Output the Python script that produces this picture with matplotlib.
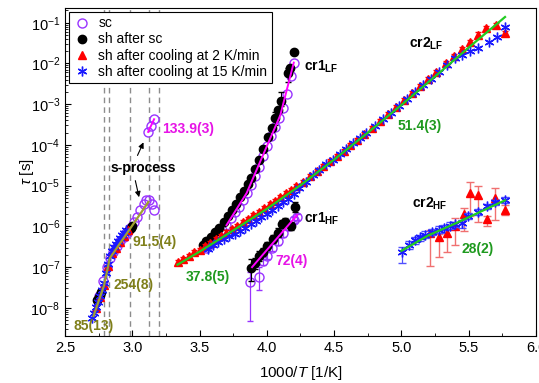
import numpy as np
import matplotlib
matplotlib.use("Agg")
import matplotlib.pyplot as plt
from matplotlib.ticker import MultipleLocator, LogLocator, NullFormatter

plt.rcParams['font.family'] = ['Liberation Sans', 'DejaVu Sans']
plt.rcParams['mathtext.fontset'] = 'custom'
plt.rcParams['mathtext.rm'] = 'Liberation Sans'
plt.rcParams['mathtext.it'] = 'Liberation Sans:italic'
plt.rcParams['mathtext.bf'] = 'Liberation Sans:bold'

# ---- relaxation times, stored as log10(tau / s) ----
# sc
sc_s_x = [2.75, 2.78, 2.81, 2.835, 2.86, 2.885, 2.91, 2.935, 2.96, 2.985, 3.01, 3.035,
          3.06, 3.085, 3.105, 3.125, 3.145, 3.165]
sc_s_lt = [-7.70, -7.35, -7.00, -6.78, -6.62, -6.48, -6.36, -6.25, -6.15, -6.03, -5.90, -5.76,
           -5.60, -5.45, -5.35, -5.36, -5.45, -5.60]
sc_top_x = [3.118, 3.140, 3.162]
sc_top_lt = [-3.68, -3.53, -3.37]
sc_lf_x = [3.55, 3.58, 3.61, 3.64, 3.67, 3.70, 3.73, 3.76, 3.79, 3.82, 3.85, 3.88, 3.91,
           3.94, 3.97, 4.00, 4.03, 4.06, 4.09, 4.12, 4.15, 4.18, 4.20]
sc_lf_lt = [-6.53, -6.43, -6.33, -6.22, -6.10, -5.97, -5.80, -5.65, -5.52, -5.36, -5.18, -4.98,
            -4.76, -4.53, -4.28, -4.03, -3.78, -3.56, -3.34, -3.10, -2.75, -2.30, -1.98]
sc_hf_x = [3.877, 3.943, 3.97, 4.00, 4.04, 4.08, 4.12, 4.16, 4.20, 4.225]
sc_hf_lt = [-7.36, -7.23, -6.85, -6.72, -6.52, -6.35, -6.15, -6.00, -5.85, -5.78]
sc_hf_lo = [-8.33, -7.55, -6.95, -6.80, -6.60, -6.45, -6.25, -6.08, -5.92, -5.85]
sc_hf_hi = [-7.12, -7.00, -6.75, -6.62, -6.44, -6.27, -6.07, -5.92, -5.78, -5.70]

# sh after sc
sh_s_x = [2.74, 2.75, 2.76, 2.77, 2.975, 2.99, 3.00]
sh_s_lt = [-7.80, -7.74, -7.68, -7.62, -6.10, -6.05, -6.00]
sh_lf_x = [3.524, 3.55, 3.586, 3.617, 3.647, 3.678, 3.709, 3.74, 3.771, 3.80, 3.833, 3.857,
           3.882, 3.91, 3.938, 3.973, 4.012, 4.037, 4.06, 4.086, 4.104, 4.16, 4.175, 4.205]
sh_lf_lt = [-6.45, -6.37, -6.25, -6.14, -6.04, -5.90, -5.75, -5.60, -5.45, -5.28, -5.12, -4.96,
            -4.80, -4.60, -4.38, -4.10, -3.81, -3.59, -3.35, -3.14, -2.91, -2.24, -2.10, -1.73]
sh_lf_bar_x = [4.06, 4.104, 4.16]
sh_lf_bar_lo = [-3.50, -3.05, -2.45]
sh_lf_bar_hi = [-3.20, -2.70, -2.10]
sh_hf_x = [3.882, 3.91, 3.944, 3.97, 4.00, 4.042, 4.08, 4.116, 4.136, 4.178, 4.21]
sh_hf_lt = [-7.02, -6.90, -6.72, -6.62, -6.48, -6.30, -6.15, -5.95, -5.90, -6.00, -5.52]
sh_hf_lo = [-7.35, -7.05, -6.85, -6.72, -6.58, -6.40, -6.25, -6.05, -6.00, -6.10, -5.65]
sh_hf_hi = [-6.80, -6.78, -6.60, -6.52, -6.38, -6.20, -6.05, -5.85, -5.80, -5.90, -5.40]

# sh after cooling at 2 K/min
r2_s_x = [2.73, 2.76, 2.79, 2.82, 2.85, 2.88, 2.91, 2.94, 2.97]
r2_s_lt = [-8.01, -7.73, -7.45, -6.98, -6.66, -6.52, -6.38, -6.24, -6.10]
r2_lf_x = [3.34, 3.38, 3.42, 3.46, 3.50, 3.54, 3.58, 3.62, 3.66, 3.70, 3.74, 3.78, 3.82, 3.86,
           3.90, 3.94, 3.98, 4.02, 4.06, 4.10, 4.14, 4.18, 4.22, 4.27, 4.32, 4.37, 4.42, 4.47,
           4.52, 4.57, 4.62, 4.67, 4.72, 4.78, 4.84, 4.90, 4.96, 5.02, 5.08, 5.14, 5.20, 5.26,
           5.33, 5.39, 5.45, 5.51, 5.57, 5.63, 5.70, 5.77]
r2_lf_lt = [-6.88, -6.80, -6.72, -6.64, -6.57, -6.48, -6.40, -6.31, -6.23, -6.15, -6.06, -5.98,
            -5.89, -5.81, -5.72, -5.64, -5.55, -5.46, -5.37, -5.28, -5.19, -5.10, -5.01, -4.90,
            -4.77, -4.65, -4.52, -4.40, -4.27, -4.14, -4.00, -3.87, -3.74, -3.58, -3.41, -3.24,
            -3.07, -2.90, -2.73, -2.55, -2.38, -2.20, -1.99, -1.82, -1.64, -1.47, -1.29, -1.14,
            -1.06, -1.25]
r2_hf_x = [5.214, 5.276, 5.339, 5.401, 5.463, 5.511, 5.572, 5.633, 5.695, 5.769]
r2_hf_lt = [-6.16, -6.25, -6.16, -6.00, -5.69, -5.18, -5.22, -5.82, -5.30, -5.59]
r2_hf_lo = [-6.98, -6.75, -6.64, -6.45, -6.12, -5.74, -5.88, -6.00, -5.84, -5.71]
r2_hf_hi = [-6.10, -6.18, -6.10, -5.79, -5.55, -4.92, -5.00, -5.74, -5.06, -5.47]

# sh after cooling at 15 K/min
b15_s_x = [2.70, 2.715, 2.73, 2.745, 2.76, 2.775, 2.79, 2.805, 2.82, 2.835, 2.85, 2.865,
           2.88, 2.895, 2.91, 2.925, 2.94, 2.955]
b15_s_lt = [-8.25, -8.12, -7.98, -7.85, -7.70, -7.55, -7.38, -7.15, -6.92, -6.72, -6.60, -6.50,
            -6.42, -6.35, -6.28, -6.22, -6.16, -6.10]
b15_lf_x = [3.56, 3.60, 3.64, 3.68, 3.72, 3.76, 3.80, 3.84, 3.88, 3.92, 3.96, 4.00, 4.04, 4.08,
            4.12, 4.16, 4.20, 4.24, 4.29, 4.34, 4.39, 4.44, 4.49, 4.54, 4.59, 4.64, 4.69, 4.74,
            4.80, 4.86, 4.92, 4.98, 5.04, 5.10, 5.16, 5.22, 5.28, 5.34, 5.40, 5.45, 5.51, 5.57,
            5.65, 5.71, 5.77]
b15_lf_lt = [-6.55, -6.46, -6.38, -6.31, -6.24, -6.18, -6.11, -6.03, -5.95, -5.86, -5.78, -5.69,
             -5.60, -5.50, -5.41, -5.32, -5.20, -5.06, -4.92, -4.73, -4.61, -4.48, -4.36, -4.23,
             -4.09, -3.96, -3.83, -3.70, -3.53, -3.37, -3.21, -3.04, -2.88, -2.71, -2.54, -2.37,
             -2.20, -2.03, -1.87, -1.80, -1.70, -1.63, -1.47, -1.34, -1.10]
b15_hf_x = [5.004, 5.06, 5.103, 5.14, 5.177, 5.23, 5.276, 5.32, 5.362, 5.40, 5.449, 5.498,
            5.572, 5.633, 5.695, 5.769]
b15_hf_lt = [-6.63, -6.45, -6.33, -6.27, -6.20, -6.14, -6.08, -6.03, -5.98, -5.95, -5.92, -5.74,
             -5.65, -5.51, -5.41, -5.35]
b15_hf_lo = [-6.90, -6.55, -6.43, -6.35, -6.28, -6.22, -6.16, -6.10, -6.06, -6.02, -6.05, -5.82,
             -5.72, -5.58, -5.48, -5.42]
b15_hf_hi = [-6.50, -6.37, -6.25, -6.20, -6.12, -6.06, -6.00, -5.96, -5.90, -5.88, -5.85, -5.66,
             -5.58, -5.44, -5.34, -5.28]

# fitted Arrhenius / VFT lines
fit_s_x = [2.712, 2.79, 2.833, 3.12]
fit_s_lt = [-8.20, -7.45, -6.78, -5.40]
fit_top_x = [3.118, 3.162]
fit_top_lt = [-3.68, -3.37]
fit_cr1lf_x = [3.70, 3.85, 4.00, 4.10, 4.20]
fit_cr1lf_lt = [-5.97, -5.18, -4.03, -3.27, -1.98]
fit_cr1hf_x = [3.89, 4.225]
fit_cr1hf_lt = [-7.00, -5.72]
fit_cr2lf_x = [3.336, 3.5, 3.75, 4.0, 4.25, 4.5, 4.75, 5.0, 5.25, 5.5, 5.77]
fit_cr2lf_lt = [-6.94, -6.62, -6.10, -5.57, -4.99, -4.36, -3.70, -3.02, -2.32, -1.61, -0.86]
fit_cr2hf_x = [5.0, 5.2, 5.4, 5.6, 5.77]
fit_cr2hf_lt = [-6.60, -6.22, -5.93, -5.62, -5.36]

transitions = [2.79, 2.83, 2.983, 3.124, 3.196]


def tau(lt):
    return 10.0 ** np.asarray(lt)


def bars(lt, lo, hi):
    t = tau(lt)
    return [t - tau(lo), tau(hi) - t]


PURPLE = '#9933ff'
MAGENTA = '#ff00ff'
OLIVE = '#a0a030'
GREEN = '#22cc22'
RED = '#ff0000'
BLUE = '#1a1aff'

fig = plt.figure(figsize=(5.39, 3.83), dpi=100)
ax = fig.add_axes([0.1206, 0.1227, 0.8738, 0.8563])
ax.set_yscale('log')

for xv in transitions:
    ax.axvline(xv, color='#8c8c8c', ls=(0, (4, 3)), lw=1.0, zorder=1)

circ = dict(ls='none', marker='o', ms=6.5, mfc='none', mec=PURPLE, mew=1.0, zorder=3)
ax.plot(sc_s_x, tau(sc_s_lt), label='sc', **circ)
ax.plot(sc_top_x, tau(sc_top_lt), **circ)
ax.plot(sc_lf_x, tau(sc_lf_lt), **circ)
ax.errorbar(sc_hf_x, tau(sc_hf_lt), yerr=bars(sc_hf_lt, sc_hf_lo, sc_hf_hi),
            ecolor=PURPLE, elinewidth=0.9, capsize=2.5, capthick=0.9, **circ)

dot = dict(ls='none', marker='o', ms=6, mfc='black', mec='black', zorder=4)
ax.plot(sh_s_x, tau(sh_s_lt), label='sh after sc', **dot)
ax.plot(sh_lf_x, tau(sh_lf_lt), **dot)
mid = tau([(a + b) / 2 for a, b in zip(sh_lf_bar_lo, sh_lf_bar_hi)])
ax.errorbar(sh_lf_bar_x, mid, yerr=[mid - tau(sh_lf_bar_lo), tau(sh_lf_bar_hi) - mid],
            fmt='none', ecolor='black', elinewidth=0.8, capsize=2.5, zorder=4)
ax.errorbar(sh_hf_x, tau(sh_hf_lt), yerr=bars(sh_hf_lt, sh_hf_lo, sh_hf_hi),
            ecolor='black', elinewidth=0.8, capsize=2.5, **dot)

tri = dict(ls='none', marker='^', ms=5.5, mfc=RED, mec=RED, zorder=5)
ax.plot(r2_s_x, tau(r2_s_lt), label='sh after cooling at 2 K/min', **tri)
r2_lf_lo = [v - 0.07 for v in r2_lf_lt]
r2_lf_hi = [v + 0.05 for v in r2_lf_lt]
ax.errorbar(r2_lf_x, tau(r2_lf_lt), yerr=bars(r2_lf_lt, r2_lf_lo, r2_lf_hi),
            ecolor=RED, elinewidth=0.7, capsize=2, **tri)
ax.errorbar(r2_hf_x, tau(r2_hf_lt), yerr=bars(r2_hf_lt, r2_hf_lo, r2_hf_hi),
            ecolor='#f07070', elinewidth=1.0, capsize=3, **tri)

star = dict(ls='none', marker=(6, 2, 0), ms=7, mec=BLUE, mew=1.0, zorder=6)
ax.plot(b15_s_x, tau(b15_s_lt), label='sh after cooling at 15 K/min', **star)
ax.plot(b15_lf_x, tau(b15_lf_lt), **star)
ax.errorbar(b15_hf_x, tau(b15_hf_lt), yerr=bars(b15_hf_lt, b15_hf_lo, b15_hf_hi),
            ecolor='#5050ff', elinewidth=0.9, capsize=3, **star)

# fit lines
ax.plot(fit_s_x, tau(fit_s_lt), color=OLIVE, lw=1.6, zorder=7)
ax.plot(fit_top_x, tau(fit_top_lt), color=MAGENTA, lw=1.4, zorder=7)
ax.plot(fit_cr1lf_x, tau(fit_cr1lf_lt), color=MAGENTA, lw=1.4, zorder=7)
ax.plot(fit_cr1hf_x, tau(fit_cr1hf_lt), color=MAGENTA, lw=1.4, zorder=7)
ax.plot(fit_cr2lf_x, tau(fit_cr2lf_lt), color=GREEN, lw=1.6, zorder=7)
ax.plot(fit_cr2hf_x, tau(fit_cr2hf_lt), color=GREEN, lw=1.6, zorder=7)

lab = dict(fontsize=10, fontweight='bold', va='center', ha='left', zorder=8)
ax.text(3.225, tau(-3.61), '133.9(3)', color='#e614e6', **lab)
ax.text(3.0, tau(-6.39), '91.5(4)', color='#7f7f1a', **lab)
ax.text(2.86, tau(-7.45), '254(8)', color='#7f7f1a', **lab)
ax.text(2.56, tau(-8.45), '85(13)', color='#7f7f1a', **lab)
ax.text(3.40, tau(-7.25), '37.8(5)', color='#1f9a1f', **lab)
ax.text(4.067, tau(-6.84), '72(4)', color='#e614e6', **lab)
ax.text(5.444, tau(-6.55), '28(2)', color='#1f9a1f', **lab)
ax.text(4.972, tau(-3.53), '51.4(3)', color='#1f9a1f', **lab)
ax.text(5.054, tau(-1.52), r'cr2$_{\mathbf{LF}}$', color='black', **lab)
ax.text(4.276, tau(-2.08), r'cr1$_{\mathbf{LF}}$', color='black', **lab)
ax.text(4.276, tau(-5.81), r'cr1$_{\mathbf{HF}}$', color='black', **lab)
ax.text(5.078, tau(-5.44), r'cr2$_{\mathbf{HF}}$', color='black', **lab)

ax.text(3.085, tau(-4.57), 's-process', fontsize=10, fontweight='bold', ha='center',
        va='center', zorder=8)
arrow = dict(arrowstyle='-|>', color='black', lw=0.8, mutation_scale=8)
ax.annotate('', xy=(3.092, tau(-3.875)), xytext=(3.03, tau(-4.32)), arrowprops=arrow)
ax.annotate('', xy=(3.055, tau(-5.35)), xytext=(3.018, tau(-4.81)), arrowprops=arrow)

ax.set_xlim(2.5, 6.0)
ax.set_ylim(2.04e-9, 0.229)
ax.xaxis.set_major_locator(MultipleLocator(0.5))
ax.xaxis.set_minor_locator(MultipleLocator(0.25))
ax.yaxis.set_major_locator(LogLocator(base=10, numticks=20))
ax.yaxis.set_minor_locator(LogLocator(base=10, subs=np.arange(2, 10), numticks=20))
ax.yaxis.set_minor_formatter(NullFormatter())
ax.tick_params(which='both', direction='in', labelsize=10.5)
ax.tick_params(which='major', length=4)
ax.tick_params(which='minor', length=2)

ax.set_xlabel('1000/$T$ [1/K]', fontsize=11)
ax.set_ylabel(r'$\tau$ [s]', fontsize=11)
ax.xaxis.set_label_coords(0.5, -0.085)
ax.yaxis.set_label_coords(-0.062, 0.5)

leg = ax.legend(loc='upper left', fontsize=10, frameon=True, fancybox=False,
                edgecolor='black', framealpha=1, borderpad=0.3, labelspacing=0.15,
                handlelength=1.2, handletextpad=0.6, borderaxespad=0.3)
leg.get_frame().set_linewidth(0.8)
leg.set_zorder(10)

fig.savefig('out.png', dpi=100)
